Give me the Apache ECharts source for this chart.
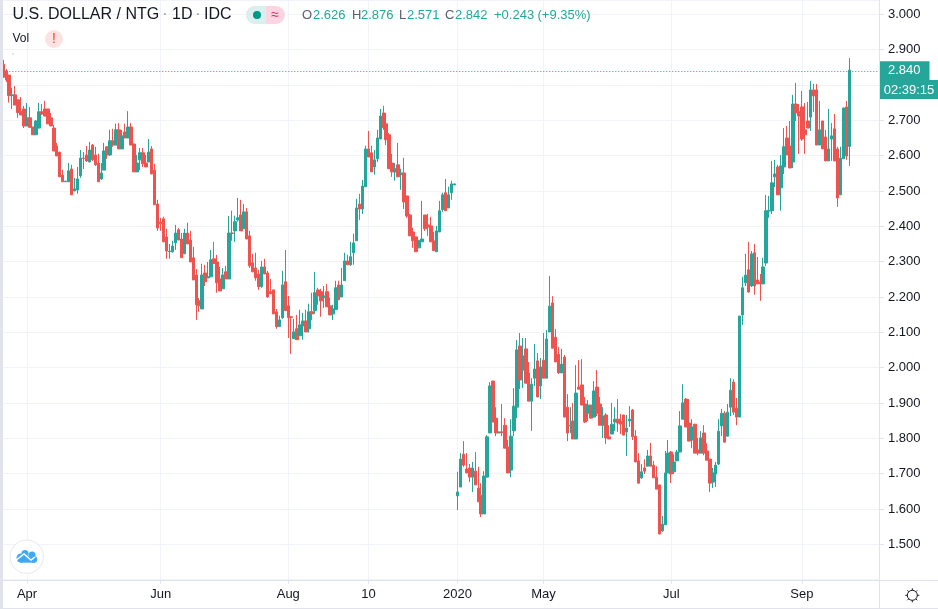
<!DOCTYPE html>
<html>
<head>
<meta charset="utf-8">
<style>
	html, body { margin: 0; padding: 0; background: #fff; }
	#main { width: 938px; height: 609px; }
</style>
<script src="https://cdn.jsdelivr.net/npm/echarts@6/dist/echarts.min.js"></script>
</head>
<body>
<div id="main"></div>
<script>
var opens = [
	2.859,2.840,2.828,2.770,2.772,2.758,2.725,2.732,2.684,2.707,
	2.681,2.659,2.678,2.724,2.732,2.732,2.707,2.678,2.627,2.610,
	2.545,2.526,2.526,2.562,2.500,2.503,2.543,2.593,2.602,2.582,
	2.630,2.602,2.579,2.534,2.559,2.625,2.602,2.642,2.630,2.673,
	2.619,2.667,2.650,2.681,2.633,2.554,2.588,2.608,2.579,2.582,
	2.619,2.559,2.463,2.412,2.421,2.370,2.328,2.328,2.353,2.390,
	2.364,2.322,2.381,2.361,2.311,2.262,2.189,2.166,2.268,2.254,
	2.257,2.308,2.299,2.251,2.223,2.271,2.251,2.381,2.387,2.418,
	2.432,2.393,2.441,2.373,2.297,2.282,2.265,2.229,2.285,2.268,
	2.215,2.220,2.158,2.116,2.141,2.243,2.175,2.144,2.082,2.110,
	2.090,2.118,2.132,2.110,2.158,2.161,2.220,2.215,2.198,2.215,
	2.175,2.152,2.164,2.234,2.200,2.246,2.302,2.291,2.325,2.359,
	2.463,2.449,2.512,2.619,2.608,2.568,2.591,2.647,2.721,2.690,
	2.659,2.579,2.554,2.574,2.546,2.551,2.486,2.432,2.384,2.370,
	2.339,2.356,2.432,2.404,2.401,2.359,2.328,2.384,2.447,2.495,
	2.452,2.495,2.517,1.637,1.662,1.755,1.713,1.716,1.690,1.707,
	1.659,1.639,1.586,1.690,1.815,1.962,1.857,1.815,1.818,1.837,
	1.775,1.710,1.821,1.888,2.061,1.993,2.053,1.985,1.905,1.970,
	2.019,1.948,2.021,1.970,2.101,2.183,2.086,2.038,1.985,2.030,
	1.888,1.835,1.849,1.798,1.945,1.951,1.897,1.871,1.894,1.860,
	1.945,1.897,1.837,1.866,1.804,1.812,1.846,1.854,1.849,1.866,
	1.818,1.849,1.880,1.806,1.736,1.688,1.716,1.721,1.750,1.724,
	1.690,1.668,1.538,1.555,1.702,1.761,1.705,1.736,1.761,1.854,
	1.911,1.843,1.795,1.840,1.767,1.758,1.815,1.764,1.741,1.676,
	1.699,1.727,1.835,1.871,1.806,1.888,1.959,1.885,1.860,2.149,
	2.240,2.277,2.231,2.325,2.248,2.242,2.237,2.296,2.443,2.444,
	2.540,2.568,2.509,2.568,2.650,2.627,2.582,2.746,2.724,2.738,
	2.673,2.698,2.709,2.786,2.786,2.630,2.698,2.653,2.585,2.647,
	2.676,2.619,2.489,2.591,2.738,2.626
];
var closes = [
	2.822,2.814,2.770,2.772,2.743,2.722,2.715,2.684,2.707,2.680,
	2.659,2.698,2.724,2.718,2.712,2.690,2.684,2.613,2.599,2.540,
	2.526,2.528,2.557,2.489,2.506,2.534,2.593,2.592,2.585,2.616,
	2.588,2.574,2.526,2.551,2.613,2.602,2.642,2.630,2.673,2.619,
	2.656,2.650,2.681,2.630,2.554,2.579,2.608,2.577,2.568,2.610,
	2.548,2.461,2.395,2.407,2.356,2.330,2.330,2.344,2.381,2.361,
	2.311,2.381,2.350,2.299,2.248,2.178,2.175,2.262,2.243,2.257,
	2.305,2.295,2.240,2.217,2.262,2.251,2.381,2.380,2.413,2.424,
	2.387,2.441,2.364,2.288,2.271,2.254,2.229,2.285,2.265,2.200,
	2.209,2.152,2.116,2.135,2.234,2.161,2.141,2.142,2.101,2.079,
	2.121,2.132,2.101,2.158,2.152,2.212,2.203,2.189,2.203,2.172,
	2.149,2.166,2.226,2.192,2.234,2.302,2.291,2.314,2.353,2.452,
	2.449,2.514,2.619,2.596,2.554,2.588,2.650,2.712,2.679,2.645,
	2.563,2.554,2.563,2.540,2.551,2.469,2.429,2.373,2.359,2.328,
	2.359,2.364,2.393,2.398,2.356,2.331,2.387,2.444,2.489,2.444,
	2.489,2.520,2.520,1.648,1.741,1.724,1.702,1.690,1.716,1.668,
	1.620,1.586,1.693,1.804,1.948,1.846,1.815,1.818,1.816,1.772,
	1.702,1.806,1.891,2.050,1.965,2.033,1.956,1.905,1.953,1.996,
	1.917,2.002,1.970,2.081,2.174,2.055,2.016,1.985,2.010,1.860,
	1.815,1.837,1.798,1.928,1.939,1.894,1.846,1.894,1.857,1.934,
	1.871,1.837,1.863,1.801,1.798,1.840,1.854,1.843,1.840,1.809,
	1.829,1.854,1.804,1.733,1.673,1.705,1.707,1.750,1.721,1.688,
	1.656,1.529,1.557,1.702,1.758,1.699,1.733,1.761,1.835,1.900,
	1.832,1.792,1.832,1.758,1.758,1.801,1.758,1.738,1.673,1.702,
	1.724,1.820,1.871,1.789,1.874,1.936,1.874,1.860,2.146,2.226,
	2.262,2.214,2.322,2.231,2.237,2.237,2.285,2.444,2.445,2.523,
	2.548,2.489,2.571,2.625,2.602,2.565,2.746,2.721,2.712,2.647,
	2.659,2.678,2.786,2.769,2.630,2.673,2.619,2.585,2.619,2.656,
	2.585,2.480,2.593,2.735,2.599,2.842
];
var lows = [
	2.820,2.808,2.750,2.732,2.743,2.707,2.715,2.678,2.684,2.680,
	2.659,2.659,2.678,2.715,2.712,2.690,2.684,2.613,2.599,2.540,
	2.526,2.526,2.526,2.489,2.500,2.492,2.537,2.562,2.582,2.582,
	2.585,2.571,2.526,2.531,2.559,2.591,2.599,2.625,2.630,2.619,
	2.619,2.650,2.650,2.630,2.554,2.554,2.559,2.568,2.568,2.582,
	2.548,2.461,2.387,2.387,2.356,2.308,2.308,2.325,2.333,2.361,
	2.311,2.322,2.350,2.299,2.248,2.135,2.158,2.166,2.231,2.254,
	2.257,2.294,2.212,2.217,2.223,2.251,2.251,2.359,2.356,2.413,
	2.387,2.393,2.364,2.282,2.271,2.246,2.220,2.226,2.265,2.198,
	2.209,2.152,2.110,2.116,2.138,2.161,2.084,2.039,2.082,2.079,
	2.090,2.079,2.101,2.099,2.135,2.152,2.178,2.144,2.169,2.172,
	2.149,2.135,2.164,2.192,2.200,2.246,2.291,2.288,2.291,2.359,
	2.418,2.435,2.512,2.596,2.554,2.546,2.582,2.647,2.673,2.630,
	2.563,2.540,2.529,2.540,2.503,2.449,2.424,2.373,2.339,2.328,
	2.339,2.356,2.387,2.373,2.356,2.331,2.328,2.384,2.441,2.444,
	2.452,2.475,2.517,1.597,1.662,1.719,1.702,1.676,1.648,1.668,
	1.620,1.577,1.586,1.690,1.815,1.846,1.806,1.815,1.806,1.772,
	1.702,1.690,1.806,1.857,1.939,1.942,1.956,1.905,1.821,1.948,
	1.917,1.911,1.970,1.970,2.101,2.055,2.016,1.982,1.985,1.860,
	1.792,1.815,1.798,1.798,1.939,1.894,1.843,1.849,1.857,1.860,
	1.863,1.837,1.801,1.784,1.798,1.812,1.821,1.818,1.812,1.809,
	1.750,1.832,1.795,1.733,1.673,1.685,1.699,1.721,1.721,1.688,
	1.656,1.529,1.535,1.555,1.702,1.673,1.699,1.736,1.761,1.854,
	1.832,1.792,1.772,1.758,1.752,1.758,1.752,1.738,1.648,1.659,
	1.662,1.724,1.806,1.789,1.806,1.863,1.866,1.837,1.860,2.121,
	2.231,2.212,2.228,2.206,2.237,2.189,2.237,2.288,2.424,2.435,
	2.511,2.489,2.444,2.548,2.602,2.565,2.565,2.698,2.605,2.642,
	2.605,2.678,2.670,2.724,2.630,2.630,2.619,2.585,2.585,2.585,
	2.585,2.455,2.489,2.591,2.588,2.571
];
var highs = [
	2.871,2.845,2.828,2.791,2.797,2.758,2.766,2.741,2.749,2.738,
	2.681,2.701,2.749,2.746,2.755,2.732,2.721,2.687,2.636,2.610,
	2.560,2.528,2.579,2.574,2.537,2.568,2.616,2.610,2.627,2.639,
	2.633,2.625,2.605,2.579,2.636,2.627,2.673,2.676,2.690,2.692,
	2.673,2.690,2.726,2.692,2.633,2.602,2.622,2.622,2.602,2.647,
	2.627,2.577,2.475,2.424,2.427,2.393,2.350,2.359,2.404,2.395,
	2.381,2.393,2.410,2.387,2.342,2.279,2.197,2.294,2.291,2.299,
	2.333,2.356,2.319,2.285,2.282,2.288,2.429,2.444,2.430,2.480,
	2.475,2.463,2.452,2.387,2.322,2.325,2.277,2.302,2.308,2.274,
	2.251,2.220,2.166,2.147,2.274,2.333,2.203,2.144,2.138,2.149,
	2.164,2.155,2.164,2.181,2.212,2.271,2.226,2.223,2.231,2.237,
	2.198,2.178,2.246,2.246,2.282,2.325,2.319,2.356,2.379,2.478,
	2.492,2.531,2.628,2.670,2.628,2.616,2.673,2.732,2.741,2.721,
	2.664,2.605,2.579,2.636,2.563,2.594,2.486,2.435,2.396,2.370,
	2.362,2.472,2.432,2.435,2.427,2.384,2.401,2.472,2.495,2.534,
	2.512,2.529,2.520,1.705,1.758,1.792,1.758,1.727,1.733,1.761,
	1.719,1.673,1.707,1.809,1.959,1.962,1.888,1.818,1.897,1.857,
	1.795,1.854,1.942,2.078,2.098,2.084,2.084,2.016,1.970,2.067,
	2.041,2.027,2.098,2.106,2.259,2.202,2.109,2.058,2.053,2.036,
	1.925,1.888,1.900,2.007,2.021,2.024,1.917,1.908,1.894,1.962,
	1.993,1.917,1.888,1.871,1.837,1.900,1.888,1.911,1.869,1.866,
	1.866,1.891,1.883,1.823,1.758,1.727,1.741,1.767,1.787,1.736,
	1.721,1.668,1.580,1.764,1.795,1.764,1.755,1.767,1.877,1.953,
	1.914,1.911,1.854,1.840,1.801,1.820,1.837,1.786,1.741,1.716,
	1.733,1.854,1.883,1.877,1.897,1.970,1.967,1.914,2.146,2.257,
	2.322,2.356,2.330,2.350,2.313,2.265,2.311,2.489,2.486,2.585,
	2.588,2.574,2.602,2.678,2.684,2.698,2.772,2.806,2.746,2.783,
	2.749,2.752,2.811,2.803,2.803,2.755,2.698,2.673,2.732,2.692,
	2.718,2.625,2.625,2.735,2.755,2.876
];
var tickIndexes = [8, 53, 96, 123, 153, 182, 225, 269];
var tickLabels = ['Apr', 'Jun', 'Aug', '10', '2020', 'May', 'Jul', 'Sep'];
var slotCount = 296;
var lastClose = closes[closes.length - 1];
var timerText = '02:39:15';

var UP = '#26a69a';
var DOWN = '#ef5350';
var GRID = '#f0f3fa';
var BORDER = '#e0e3eb';
var INK = '#131722';
var FONT = '"Liberation Sans", Arial, sans-serif';

// categories run on past the last candle, that is the empty room before the price scale
var categories = [];
for(var i = 0; i < slotCount; i++) {
	categories.push(String(i));
}
var candles = opens.map(function(o, i) {
	return [o, closes[i], lows[i], highs[i]];
});

function isTick(index) {
	return tickIndexes.indexOf(index) >= 0;
}

function label(text, x, y, size, color, align) {
	return {
		type: 'text',
		x: x,
		y: y,
		silent: true,
		z: 20,
		style: {
			text: text,
			fill: color,
			font: size + 'px ' + FONT,
			textAlign: align || 'left',
			textVerticalAlign: 'middle'
		}
	};
}

function hline(x1, x2, y) {
	return {
		type: 'line',
		silent: true,
		z: 10,
		shape: { x1: x1, y1: y, x2: x2, y2: y },
		style: { stroke: BORDER, lineWidth: 1 }
	};
}

function dot(x, y, r, fill) {
	return {
		type: 'circle',
		silent: true,
		z: 20,
		shape: { cx: x, cy: y, r: r },
		style: { fill: fill }
	};
}

var chrome = [
	// left strip and the frame round the scales
	{ type: 'rect', silent: true, z: 10, shape: { x: 0, y: 0, width: 3, height: 609 }, style: { fill: BORDER } },
	hline(0, 938, 580.5),
	hline(0, 938, 608.5),
	{ type: 'line', silent: true, z: 10, shape: { x1: 879.5, y1: 0, x2: 879.5, y2: 609 }, style: { stroke: BORDER, lineWidth: 1 } },
	{ type: 'rect', silent: true, z: 10, shape: { x: 12, y: 53, width: 2, height: 2 }, style: { fill: '#e4e4e4' } },

	// header
	label('U.S. DOLLAR / NTG', 12.5, 15, 16, INK),
	label('·', 165, 15, 16, '#9598a1', 'center'),
	label('1D', 172, 15, 16, INK),
	label('·', 198, 15, 16, '#9598a1', 'center'),
	label('IDC', 204, 15, 16, INK),
	{ type: 'rect', silent: true, z: 20, shape: { x: 246, y: 6, width: 39, height: 18, r: 9 }, style: { fill: '#fbd5e2' } },
	{ type: 'rect', silent: true, z: 20, shape: { x: 246, y: 6, width: 20, height: 18, r: [9, 0, 0, 9] }, style: { fill: '#d9f0ee' } },
	dot(257, 15, 4, '#009688'),
	label('≈', 275, 15, 14, '#e91e63', 'center'),
	label('O', 302, 15, 13, '#5d606b'),
	label('2.626', 313, 15, 13, UP),
	label('H', 352, 15, 13, '#5d606b'),
	label('2.876', 361, 15, 13, UP),
	label('L', 399, 15, 13, '#5d606b'),
	label('2.571', 407, 15, 13, UP),
	label('C', 445, 15, 13, '#5d606b'),
	label('2.842', 455, 15, 13, UP),
	label('+0.243', 494, 15, 13, UP),
	label('(+9.35%)', 537.5, 15, 13, UP),
	label('Vol', 12.5, 39, 12, INK),
	dot(54, 39, 9, '#fde2e2'),
	label('!', 54, 39, 14, '#f44336', 'center'),

	// countdown under the price tag
	{ type: 'rect', silent: true, z: 20, shape: { x: 880, y: 80, width: 58, height: 19 }, style: { fill: UP } },
	label(timerText, 909, 90, 13, '#fff', 'center'),

	// logo
	{ type: 'circle', silent: true, z: 20, shape: { cx: 26.7, cy: 556.7, r: 16.7 }, style: { fill: '#fff', stroke: '#e8e8ee', lineWidth: 1 } },
	dot(21, 558, 4.5, '#3fa9f5'),
	dot(25, 553.5, 3.5, '#3fa9f5'),
	dot(32, 555, 3.5, '#3fa9f5'),
	dot(34, 559.5, 3.2, '#3fa9f5'),
	{ type: 'rect', silent: true, z: 20, shape: { x: 20, y: 556, width: 15, height: 6.7 }, style: { fill: '#3fa9f5' } },
	{ type: 'polyline', silent: true, z: 21, shape: { points: [[15, 561], [24, 554], [31, 560], [35, 557]] }, style: { fill: 'none', stroke: '#fff', lineWidth: 1.5 } },

	// settings gear
	{ type: 'circle', silent: true, z: 20, shape: { cx: 912.3, cy: 595.3, r: 5 }, style: { fill: 'none', stroke: INK, lineWidth: 1 } }
];

for(var a = 0; a < 8; a++) {
	var ang = a * Math.PI / 4;
	chrome.push({
		type: 'line',
		silent: true,
		z: 20,
		shape: {
			x1: 912.3 + Math.cos(ang) * 5,
			y1: 595.3 + Math.sin(ang) * 5,
			x2: 912.3 + Math.cos(ang) * 7,
			y2: 595.3 + Math.sin(ang) * 7
		},
		style: { stroke: INK, lineWidth: 1 }
	});
}

var myChart = echarts.init(document.getElementById('main'), null, { renderer: 'canvas' });

var option = {
	animation: false,
	backgroundColor: '#fff',
	textStyle: { fontFamily: FONT },
	grid: { left: 3.3, width: 875.7, top: 0, height: 579.6 },
	xAxis: {
		type: 'category',
		data: categories,
		boundaryGap: false,
		axisLine: { show: false },
		axisTick: {
			show: true,
			length: 4,
			interval: function(index) { return isTick(index); },
			lineStyle: { color: BORDER }
		},
		splitLine: {
			show: true,
			interval: function(index) { return isTick(index); },
			lineStyle: { color: GRID, width: 1 }
		},
		axisLabel: {
			interval: function(index) { return isTick(index); },
			formatter: function(value, index) {
				return tickLabels[tickIndexes.indexOf(Number(value))];
			},
			color: INK,
			fontSize: 13,
			margin: 8
		}
	},
	yAxis: {
		type: 'value',
		position: 'right',
		min: 1.4,
		max: 3.0405,
		interval: 0.1,
		axisLine: { show: false },
		axisTick: { show: true, length: 5, lineStyle: { color: BORDER } },
		splitLine: { show: true, lineStyle: { color: GRID, width: 1 } },
		axisLabel: {
			showMinLabel: false,
			showMaxLabel: false,
			formatter: function(value) { return value.toFixed(3); },
			color: INK,
			fontSize: 13,
			margin: 9
		}
	},
	series: [{
		type: 'candlestick',
		data: candles,
		barWidth: 3,
		itemStyle: {
			color: UP,
			color0: DOWN,
			borderColor: UP,
			borderColor0: DOWN,
			borderWidth: 1
		},
		markLine: {
			silent: true,
			symbol: 'none',
			animation: false,
			lineStyle: { color: UP, type: [1, 2], width: 1 },
			label: {
				position: 'end',
				distance: 0,
				formatter: function(p) { return p.value.toFixed(3); },
				color: '#fff',
				backgroundColor: UP,
				fontSize: 13,
				padding: [3, 9, 3, 9]
			},
			data: [{ yAxis: lastClose }]
		}
	}],
	graphic: chrome
};

myChart.setOption(option);
</script>
</body>
</html>
